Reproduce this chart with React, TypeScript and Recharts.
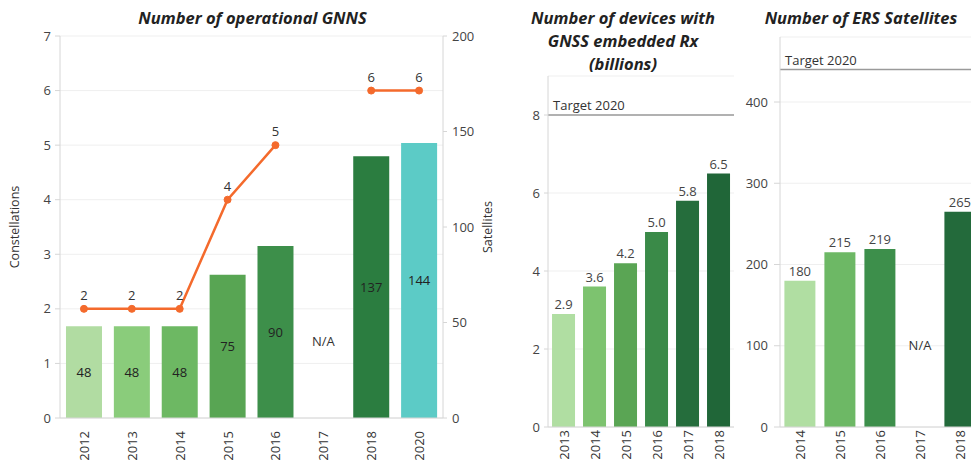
import {
  ComposedChart,
  BarChart,
  Bar,
  Line,
  Cell,
  XAxis,
  YAxis,
  CartesianGrid,
  LabelList,
  Label,
  ReferenceLine,
  ReferenceDot,
} from 'recharts';

// Panel 1: operational GNSS
const gnssYears = ['2012', '2013', '2014', '2015', '2016', '2017', '2018', '2020'];
const gnssSatellites = [48, 48, 48, 75, 90, null, 137, 144];
const gnssConstellations = [2, 2, 2, 4, 5, null, 6, 6];
const gnssColors = ['#b1dca2', '#8acc7b', '#6db863', '#58a553', '#3d8f4a', '#3d8f4a', '#2b7d40', '#5ccbc6'];
const gnssNaLevel = 40; // satellites axis level of the "N/A" note

// Panel 2: devices with GNSS receivers (billions)
const deviceYears = ['2013', '2014', '2015', '2016', '2017', '2018'];
const deviceBillions = [2.9, 3.6, 4.2, 5.0, 5.8, 6.5];
const deviceColors = ['#b0dea2', '#7dc36f', '#5aa554', '#3a8a48', '#256d3c', '#206638'];
const deviceTarget = 8;

// Panel 3: ERS satellites
const ersYears = ['2014', '2015', '2016', '2017', '2018'];
const ersSatellites = [180, 215, 219, null, 265];
const ersColors = ['#b0dea2', '#6db865', '#3d8f4b', '#3d8f4b', '#236a3b'];
const ersTarget = 440;
const ersNaLevel = 100;

const gnssData = gnssYears.map((year, i) => ({
  year,
  satellites: gnssSatellites[i],
  constellations: gnssConstellations[i],
}));
const deviceData = deviceYears.map((year, i) => ({ year, value: deviceBillions[i] }));
const ersData = ersYears.map((year, i) => ({ year, value: ersSatellites[i] }));

const axisColor = '#d6d6d6';
const gridColor = '#efefef';
const tickFont = { fontSize: 13, fill: '#444' };
const orange = '#f46a2c';

const YearTick = (props: any) => {
  const { x, y, payload } = props;
  return (
    <text
      x={x}
      y={y}
      transform={`rotate(-90 ${x} ${y})`}
      textAnchor="end"
      dominantBaseline="central"
      fontSize={13}
      fill="#333"
    >
      {payload.value}
    </text>
  );
};

const Title = ({ left, width, lines }: { left: number; width: number; lines: string[] }) => (
  <div
    style={{
      position: 'absolute',
      left,
      top: 6,
      width,
      textAlign: 'center',
      fontWeight: 700,
      fontStyle: 'italic',
      fontSize: 16.5,
      lineHeight: '23px',
      color: '#222',
    }}
  >
    {lines.map((l) => (
      <div key={l}>{l}</div>
    ))}
  </div>
);

export default function App() {
  return (
    <div
      style={{
        position: 'fixed',
        left: 0,
        top: 0,
        width: 971,
        height: 465,
        overflow: 'hidden',
        background: '#fff',
        fontFamily: '"Open Sans", sans-serif',
      }}
    >
      <Title left={0} width={505} lines={['Number of operational GNNS']} />
      <Title left={490} width={266} lines={['Number of devices with', 'GNSS embedded Rx', '(billions)']} />
      <Title left={741} width={240} lines={['Number of ERS Satellites']} />

      <div style={{ position: 'absolute', left: 0, top: 0 }}>
        <ComposedChart
          width={505}
          height={465}
          data={gnssData}
          margin={{ top: 36, right: 0, left: 0, bottom: 0 }}
          barCategoryGap="12.5%"
        >
          <CartesianGrid yAxisId="left" vertical={false} stroke={gridColor} />
          <XAxis
            dataKey="year"
            height={47}
            axisLine={{ stroke: axisColor }}
            tickLine={false}
            tickMargin={7}
            tick={<YearTick />}
            interval={0}
          />
          <YAxis
            yAxisId="left"
            width={60}
            domain={[0, 7]}
            ticks={[0, 1, 2, 3, 4, 5, 6, 7]}
            axisLine={{ stroke: axisColor }}
            tickLine={{ stroke: axisColor }}
            tickSize={5}
            tickMargin={4}
            tick={tickFont}
          >
            <Label
              value="Constellations"
              angle={-90}
              position="insideLeft"
              offset={15}
              style={{ textAnchor: 'middle', fontSize: 12.5, fill: '#333' }}
            />
          </YAxis>
          <YAxis
            yAxisId="right"
            orientation="right"
            width={62}
            domain={[0, 200]}
            ticks={[0, 50, 100, 150, 200]}
            axisLine={{ stroke: axisColor }}
            tickLine={{ stroke: axisColor }}
            tickSize={4}
            tickMargin={5}
            tick={tickFont}
          >
            <Label
              value="Satellites"
              angle={-90}
              position="insideRight"
              offset={17}
              style={{ textAnchor: 'middle', fontSize: 12.5, fill: '#333' }}
            />
          </YAxis>
          <Bar yAxisId="right" dataKey="satellites" isAnimationActive={false}>
            {gnssData.map((d, i) => (
              <Cell key={d.year} fill={gnssColors[i]} />
            ))}
            <LabelList dataKey="satellites" position="center" fill="#222" fontSize={13} />
          </Bar>
          <Line
            yAxisId="left"
            dataKey="constellations"
            stroke={orange}
            strokeWidth={2.5}
            dot={{ r: 3.5, fill: orange, stroke: orange, strokeWidth: 1 }}
            activeDot={false}
            connectNulls={false}
            isAnimationActive={false}
          >
            <LabelList dataKey="constellations" position="top" offset={9} fill="#333" fontSize={13} />
          </Line>
          <ReferenceDot
            yAxisId="right"
            x="2017"
            y={gnssNaLevel}
            r={0}
            stroke="none"
            fill="none"
            label={{ value: 'N/A', position: 'center', fill: '#333', fontSize: 13 }}
          />
        </ComposedChart>
      </div>

      <div style={{ position: 'absolute', left: 490, top: 0 }}>
        <BarChart
          width={244}
          height={465}
          data={deviceData}
          margin={{ top: 76, right: 0, left: 0, bottom: 0 }}
          barCategoryGap="13%"
        >
          <CartesianGrid vertical={false} stroke={gridColor} />
          <XAxis
            dataKey="year"
            height={38}
            axisLine={{ stroke: axisColor }}
            tickLine={false}
            tickMargin={-3}
            tick={<YearTick />}
            interval={0}
          />
          <YAxis
            width={58}
            domain={[0, 9]}
            ticks={[0, 2, 4, 6, 8]}
            axisLine={{ stroke: axisColor }}
            tickLine={{ stroke: axisColor }}
            tickSize={4}
            tickMargin={4}
            tick={tickFont}
          />
          <ReferenceLine
            y={deviceTarget}
            stroke="#9a9a9a"
            strokeWidth={1.5}
            label={{ value: 'Target 2020', position: 'insideBottomLeft', offset: 5, fill: '#333', fontSize: 13 }}
          />
          <Bar dataKey="value" isAnimationActive={false}>
            {deviceData.map((d, i) => (
              <Cell key={d.year} fill={deviceColors[i]} />
            ))}
            <LabelList
              dataKey="value"
              position="top"
              offset={5}
              fill="#444"
              fontSize={13}
              formatter={(v: any) => Number(v).toFixed(1)}
            />
          </Bar>
        </BarChart>
      </div>

      <div style={{ position: 'absolute', left: 740, top: 0 }}>
        <BarChart
          width={240}
          height={465}
          data={ersData}
          margin={{ top: 37, right: 0, left: 0, bottom: 0 }}
          barCategoryGap="11%"
        >
          <CartesianGrid vertical={false} stroke={gridColor} />
          <XAxis
            dataKey="year"
            height={38}
            axisLine={{ stroke: axisColor }}
            tickLine={false}
            tickMargin={-3}
            tick={<YearTick />}
            interval={0}
          />
          <YAxis
            width={40}
            domain={[0, 480]}
            ticks={[0, 100, 200, 300, 400]}
            axisLine={{ stroke: axisColor }}
            tickLine={{ stroke: axisColor }}
            tickSize={6}
            tickMargin={6}
            tick={tickFont}
          />
          <ReferenceLine
            y={ersTarget}
            stroke="#9a9a9a"
            strokeWidth={1.5}
            label={{ value: 'Target 2020', position: 'insideBottomLeft', offset: 5, fill: '#333', fontSize: 13 }}
          />
          <Bar dataKey="value" isAnimationActive={false}>
            {ersData.map((d, i) => (
              <Cell key={d.year} fill={ersColors[i]} />
            ))}
            <LabelList dataKey="value" position="top" offset={5} fill="#444" fontSize={13} />
          </Bar>
          <ReferenceDot
            x="2017"
            y={ersNaLevel}
            r={0}
            stroke="none"
            fill="none"
            label={{ value: 'N/A', position: 'center', fill: '#333', fontSize: 13 }}
          />
        </BarChart>
      </div>
    </div>
  );
}
